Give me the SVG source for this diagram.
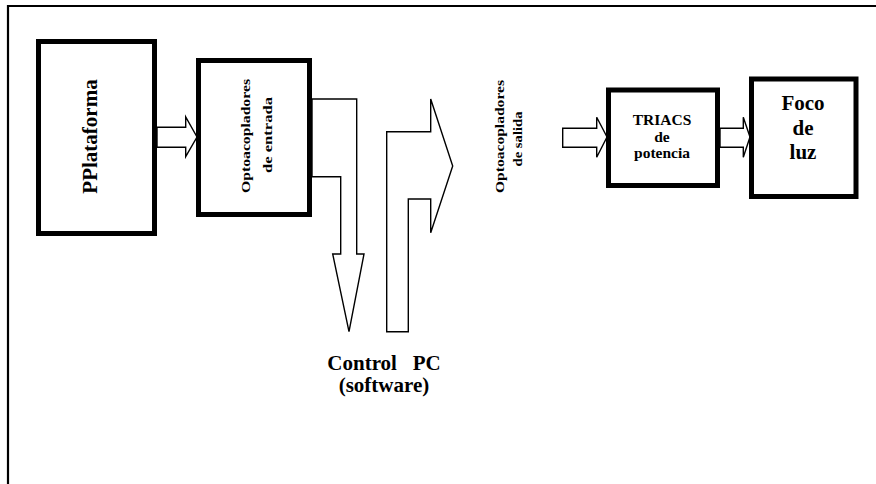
<svg xmlns="http://www.w3.org/2000/svg" width="876" height="484" viewBox="0 0 876 484">
<style>
.box{fill:#fff;stroke:#000;stroke-width:5}
.arr{fill:#fff;stroke:#000;stroke-width:1.4;stroke-linejoin:miter}
.t{font-family:'Liberation Serif','Times New Roman',serif;font-weight:700;fill:#000;text-anchor:middle}
.frame{stroke:#000;stroke-width:2.2;fill:none}
</style>
<g id="frame">
<line class="frame" x1="8" y1="5" x2="8" y2="484"/>
<line class="frame" x1="7" y1="6" x2="876" y2="6"/>
</g>
<g id="connectors">
<polygon class="arr" points="157,127.3 185.7,127.3 185.7,117 197,137 185.7,156.7 185.7,147.3 157,147.3"/>
<polygon class="arr" points="312,99 356.7,99 356.7,254 364,254 349,331.7 332.7,254 340.7,254 340.7,176.7 312,176.7"/>
<polygon class="arr" points="386.7,331.7 386.7,131.7 430.7,131.7 430.7,99 452.7,166 430.7,232.7 430.7,199 408.3,199 408.3,331.7"/>
<polygon class="arr" points="562.7,128.3 596.7,128.3 596.7,117.3 607,137 596.7,157.3 596.7,147.3 562.7,147.3"/>
<polygon class="arr" points="720,128.3 743.3,128.3 743.3,117.3 750,137 743.3,157.3 743.3,147.3 720,147.3"/>
</g>
<g id="plataforma">
<rect class="box" x="38.5" y="41.5" width="116" height="192"/>
<text class="t" font-size="21" transform="translate(97,136.5) rotate(-90)">PPlataforma</text>
</g>
<g id="opto-entrada">
<rect class="box" x="198.5" y="60.5" width="111" height="154"/>
<text class="t" font-size="13.5" transform="translate(249.5,136) rotate(-90)" textLength="114" lengthAdjust="spacingAndGlyphs">Optoacopladores</text>
<text class="t" font-size="13.5" transform="translate(271.5,135) rotate(-90)" textLength="76" lengthAdjust="spacingAndGlyphs">de entrada</text>
</g>
<g id="opto-salida">
<text class="t" font-size="13.5" transform="translate(504,136.5) rotate(-90)" textLength="113" lengthAdjust="spacingAndGlyphs">Optoacopladores</text>
<text class="t" font-size="13.5" transform="translate(522,139) rotate(-90)" textLength="55" lengthAdjust="spacingAndGlyphs">de salida</text>
</g>
<g id="triacs">
<rect class="box" x="608.5" y="90" width="109" height="95.5"/>
<text class="t" font-size="15.5" x="662" y="125">TRIACS</text>
<text class="t" font-size="15.5" x="662" y="141.7">de</text>
<text class="t" font-size="15.5" x="662" y="158">potencia</text>
</g>
<g id="foco">
<rect class="box" x="751.5" y="79" width="104.5" height="117.5"/>
<text class="t" font-size="21" x="803" y="110">Foco</text>
<text class="t" font-size="21" x="803" y="135">de</text>
<text class="t" font-size="21" x="803" y="159.3">luz</text>
</g>
<g id="control-pc">
<text class="t" font-size="21" x="384" y="370" style="white-space:pre">Control   PC</text>
<text class="t" font-size="21" x="384" y="392">(software)</text>
</g>
</svg>
